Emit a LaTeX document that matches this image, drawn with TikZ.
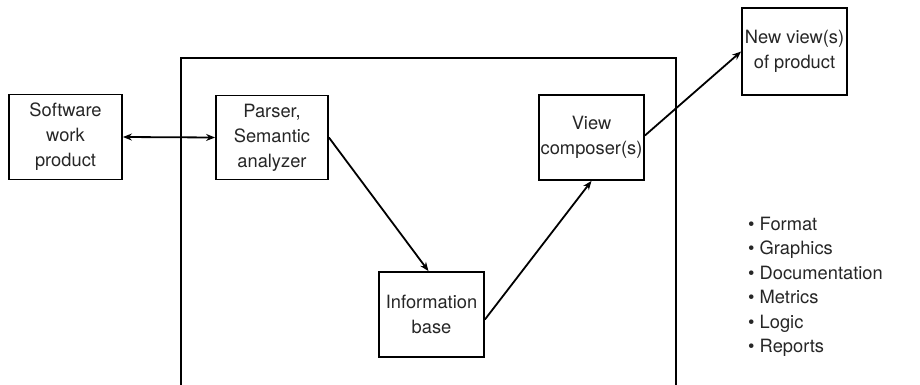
\documentclass[tikz,border=0pt]{standalone}
\usepackage{fontspec}
\setmainfont{TeX Gyre Heros}
\usetikzlibrary{arrows.meta,calc}
\begin{document}
\begin{tikzpicture}[x=1pt,y=-1pt,
  txt/.style={font=\fontsize{18.3}{25}\selectfont, text=black!85},
  box/.style={draw=black, line width=1.8pt, rectangle, align=center, inner sep=0pt, txt},
  arr/.style={line width=1.8pt, -{Stealth[length=9pt,width=7pt]}},
  darr/.style={line width=1.8pt, {Stealth[length=9pt,width=7pt]}-{Stealth[length=9pt,width=7pt]}},
  item/.style={txt, anchor=base west, inner sep=0pt}]
\useasboundingbox (0,0) rectangle (920,385);
% enclosing frame (open at the bottom)
\draw[line width=1.8pt] (181,390) -- (181,58) -- (676,58) -- (676,390);
\node[box, minimum width=113pt, minimum height=85pt] (sw) at (65.5,137) {Software\\work\\product};
\node[box, minimum width=112pt, minimum height=84pt] (ps) at (272,137.5) {Parser,\\Semantic\\analyzer};
\node[box, minimum width=105pt, minimum height=85pt] (vc) at (591.5,137.5) {View\\composer(s)};
\node[box, minimum width=105pt, minimum height=87pt] (nv) at (794.5,51.5) {New view(s)\\of product};
\node[box, minimum width=105pt, minimum height=85pt] (ib) at (431.5,314.5) {Information\\base};
\draw[darr] (sw.east) -- (ps.west);
\draw[arr] (ps.east) -- ($(ib.north)+(-3,0)$);
\draw[arr] ($(ib.east)+(0,5)$) -- (vc.south);
\draw[arr] ($(vc.east)+(0,-2)$) -- (nv.west);
\node[item] (b1) at (748,230) {\textbullet\ Format};
\node[item] (b2) at (748,254.5) {\textbullet\ Graphics};
\node[item] (b3) at (748,279) {\textbullet\ Documentation};
\node[item] (b4) at (748,303.5) {\textbullet\ Metrics};
\node[item] (b5) at (748,328) {\textbullet\ Logic};
\node[item] (b6) at (748,352.5) {\textbullet\ Reports};
\end{tikzpicture}
\end{document}
